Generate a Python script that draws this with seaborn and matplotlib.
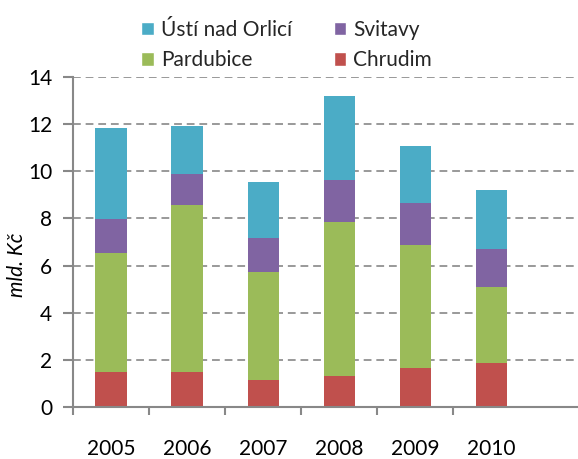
import matplotlib
matplotlib.use("Agg")
import matplotlib.pyplot as plt
import seaborn as sns
import numpy as np
import pandas as pd
from matplotlib.patches import Patch

years = ["2005", "2006", "2007", "2008", "2009", "2010"]
chrudim = [1.48, 1.48, 1.16, 1.33, 1.65, 1.88]
pardubice = [5.05, 7.09, 4.55, 6.50, 5.21, 3.20]
svitavy = [1.46, 1.30, 1.46, 1.82, 1.79, 1.61]
usti = [3.83, 2.04, 2.36, 3.56, 2.44, 2.53]

series_names = ["Chrudim", "Pardubice", "Svitavy", "Ústí nad Orlicí"]
series_vals = [chrudim, pardubice, svitavy, usti]
colors = ["#C0504D", "#9BBB59", "#8064A2", "#4BACC6"]
y_ticks = [0, 2, 4, 6, 8, 10, 12, 14]

sns.set_theme(style="white")
plt.rcParams["font.family"] = ["Lato", "DejaVu Sans"]

W, H = 578, 459
fig = plt.figure(figsize=(W / 100, H / 100), dpi=100)
ax = fig.add_axes([73 / W, (H - 407) / H, (W - 73) / W, 330 / H])

bottom = np.zeros(len(years))
for name, vals, col in zip(series_names, series_vals, colors):
    df = pd.DataFrame({"year": years, "value": vals})
    sns.barplot(data=df, x="year", y="value", color=col, width=0.41,
                bottom=bottom, ax=ax, saturation=1, linewidth=0, errorbar=None)
    bottom = bottom + np.array(vals)

ax.set_xlim(-0.5, 6.14)
ax.set_ylim(0, 14)
ax.set_yticks(y_ticks)
ax.set_yticklabels([str(t) for t in y_ticks])
ax.yaxis.grid(True, color="#999999", linestyle=(0, (4, 2.5)), linewidth=1.4)
ax.set_axisbelow(True)

for s in ["top", "right"]:
    ax.spines[s].set_visible(False)
for s in ["left", "bottom"]:
    ax.spines[s].set_color("#888888")
    ax.spines[s].set_linewidth(1.5)

ax.set_xticks(np.arange(-0.5, 5.0, 1.0), minor=True)
ax.tick_params(axis="x", which="major", length=0, pad=23, labelsize=15, colors="black")
ax.tick_params(axis="x", which="minor", length=6, width=1.5, color="#888888", direction="out", bottom=True)
ax.tick_params(axis="y", which="major", length=7, width=1.5, color="#888888", direction="out",
               pad=8, labelsize=15, left=True, labelcolor="black")
ax.set_xlabel("")
ax.set_ylabel("mld. Kč", fontsize=15, fontstyle="italic", color="black")
ax.yaxis.set_label_coords(-0.092, 0.43)

handles = [Patch(facecolor=colors[3]), Patch(facecolor=colors[1]),
           Patch(facecolor=colors[2]), Patch(facecolor=colors[0])]
labels = [series_names[3], series_names[1], series_names[2], series_names[0]]
fig.legend(handles, labels, ncol=2, loc="upper left",
           bbox_to_anchor=(141 / W, 1 - 20 / H), frameon=False,
           fontsize=15, handlelength=0.6, handleheight=0.6, handletextpad=0.35,
           columnspacing=2.0, labelspacing=0.5, borderpad=0, borderaxespad=0)

fig.savefig("out.png", dpi=100)
